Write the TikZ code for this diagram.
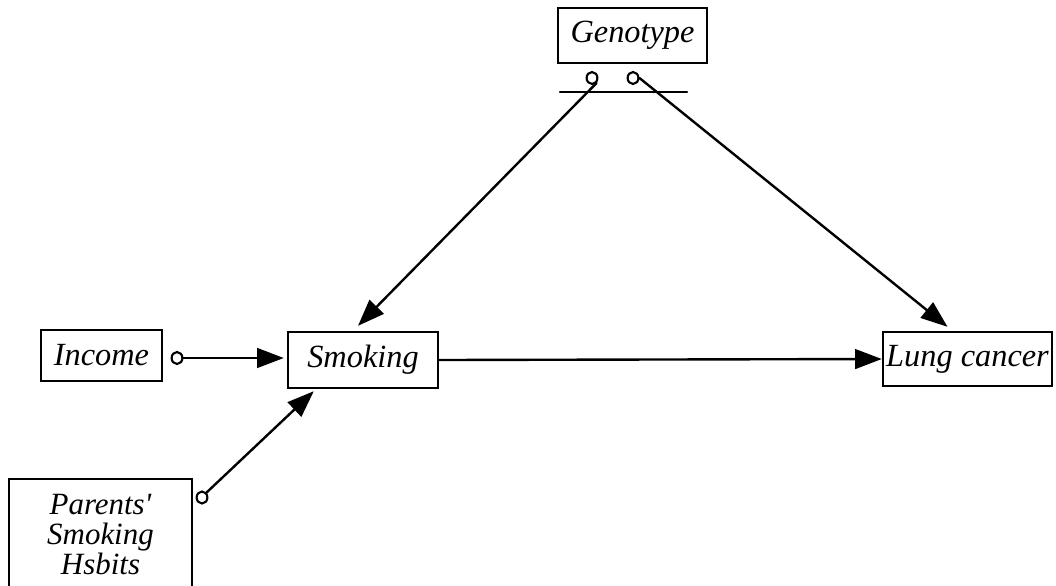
\documentclass[tikz,border=0pt]{standalone}
\usepackage{fontspec}
\setmainfont{Liberation Serif}
\usetikzlibrary{arrows.meta,calc,shapes.geometric}

\tikzset{
  var/.style={draw, line width=1.7pt, rectangle, inner sep=0pt,
    font=\fontsize{23}{20}\selectfont\itshape, align=center},
  ring/.style={draw, ellipse, line width=1.5pt, inner sep=0pt,
    minimum width=0.27cm, minimum height=0.3cm},
  causes/.style={line width=1.7pt, -{Triangle[length=19pt,width=14pt]}}
}

\begin{document}
\begin{tikzpicture}[x=0.025cm, y=-0.025cm, line cap=round]
    \useasboundingbox (0,0) rectangle (1056,585);

    % Variables
    \node[var, minimum width=3.725cm, minimum height=1.375cm] (genotype) at (632.5,35.5) {Genotype};
    \node[var, minimum width=3.75cm,  minimum height=1.4cm]   (smoking)  at (363,360)    {Smoking};
    \node[var, minimum width=4.225cm, minimum height=1.35cm]  (lung)     at (967.5,359)  {Lung cancer};
    \node[var, minimum width=3.025cm, minimum height=1.275cm] (income)   at (101.5,355.5) {Income};
    \node[var, minimum width=4.575cm, minimum height=2.775cm,
          font=\fontsize{22}{21.5}\selectfont\itshape] (parents) at (100.5,534.5)
        {Parents\textquotesingle\\Smoking\\Hsbits};

    % Exogenous markers
    \node[ring] (geno-a) at (592,78) {};
    \node[ring] (geno-b) at (633,78) {};
    \node[ring] (inc-o)  at (177,358) {};
    \node[ring] (par-o)  at (202,497.5) {};

    % Bar under Genotype
    \coordinate (bar-l) at (560,92);
    \coordinate (bar-r) at (687,92);
    \draw[line width=1.7pt] (bar-l) -- (bar-r);

    % Causal arrows
    \draw[causes] (geno-a.south east) -- ($(smoking.north)+(-5,-5)$);
    \draw[causes] (geno-b.east) -- ($(lung.north)+(-20,-4)$);
    \draw[causes] (inc-o.east) -- ($(smoking.west)+(-3,-2)$);
    \draw[causes] (par-o.north east) -- ($(smoking.south west)+(27,2)$);
    \draw[causes] (smoking.east) -- (lung.west);
\end{tikzpicture}
\end{document}
